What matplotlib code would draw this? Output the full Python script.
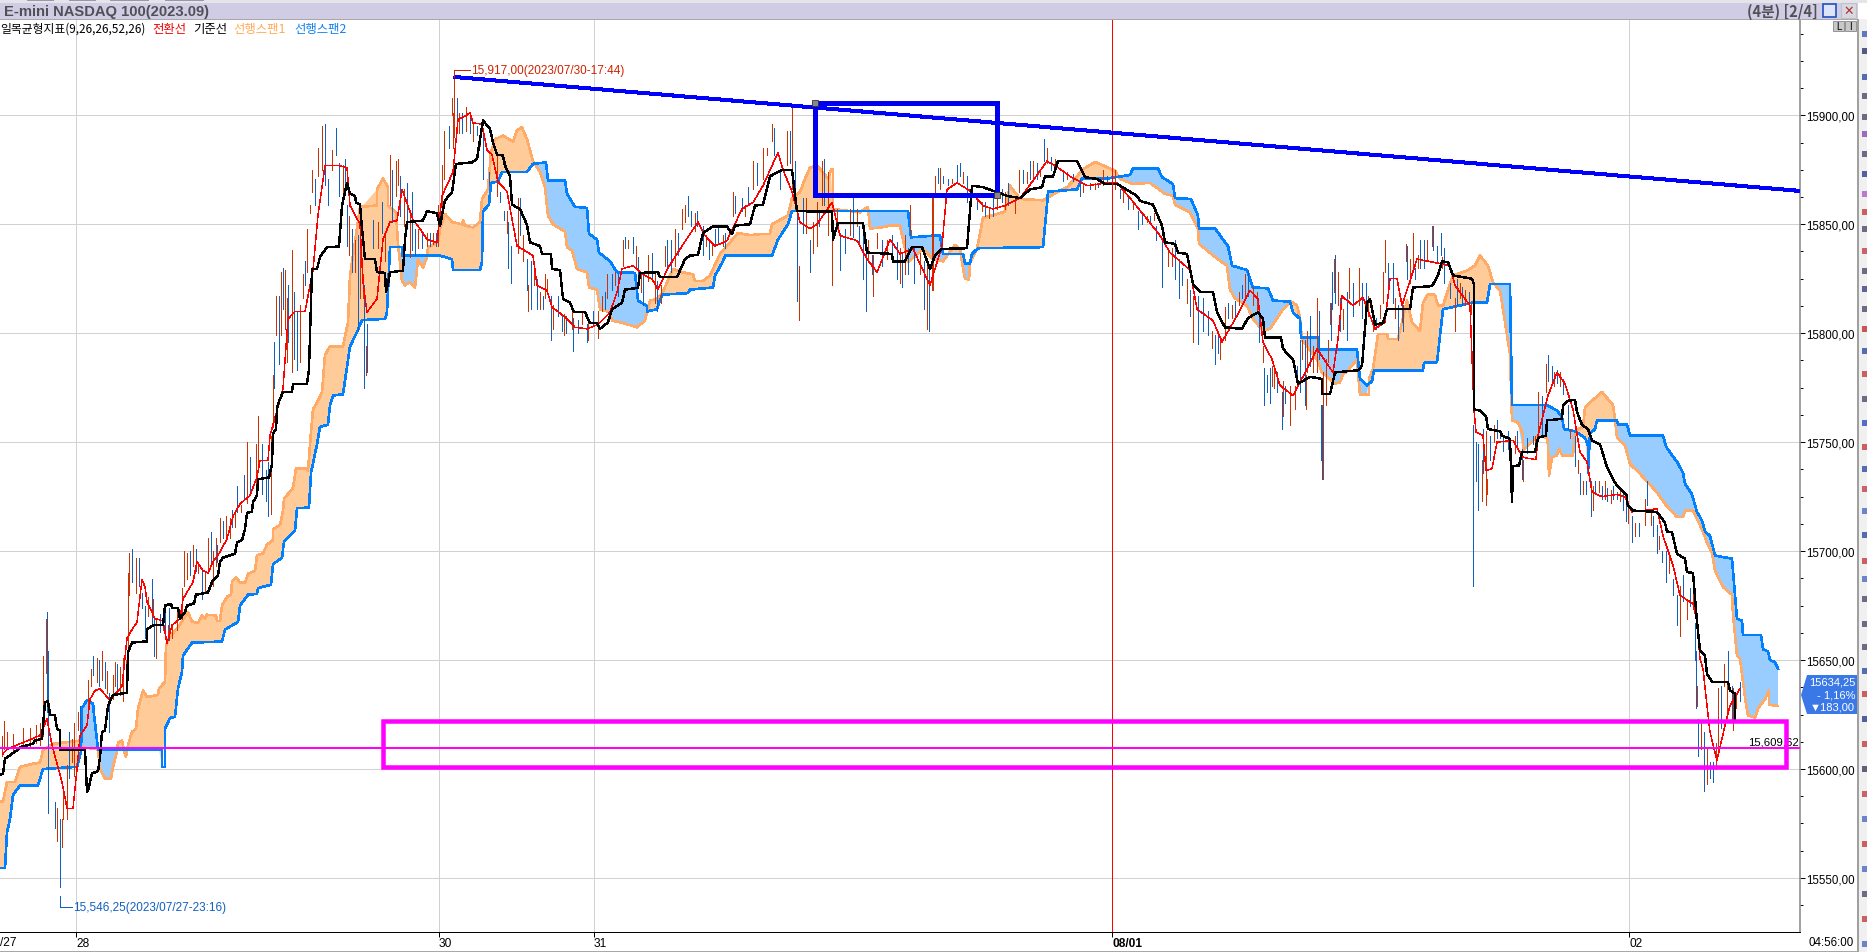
import matplotlib
matplotlib.use('Agg')

import numpy as np
import matplotlib.pyplot as plt
from matplotlib.patches import Polygon, Rectangle
from matplotlib.ticker import FuncFormatter, MultipleLocator

# chart position (bars run left to right), price
span2 = [(0,15554.6),(5,15554.6),(7,15571),(10,15577),(13,15588),(20,15592.5),(38,15592.5),(43,15600),(77,15601),(81,15608),(82,15628),(87,15631.5),(93,15630),(94,15625),(98,15609),(162,15609),(162,15601),(165,15601),(165,15618.5),(170,15623.4),(175,15624),(178,15637),(182,15644.5),(183,15652),(192,15658),(222,15658.5),(225,15664),(238,15667.5),(240,15675),(248,15680),(257,15680.4),(258,15683),(271,15684.6),(273,15694),(282,15697),(284,15704.4),(295,15709.5),(297,15719.7),(309,15720),(311,15736),(317,15749),(320,15757),(328,15758),(330,15767),(333,15771.4),(343,15772),(350,15794),(357,15800.5),(362,15806),(385,15806.6),(387,15809.6),(390,15839.5),(402,15839.5),(402,15835.6),(440,15835.6),(452,15834),(453,15829),(480,15829),(482,15832.6),(483,15856),(489,15859),(491,15869),(498,15869.6),(502,15874),(527,15874),(533,15877.7),(546,15878.4),(548,15870),(565,15870),(567,15864),(575,15858),(587,15857.5),(589,15845.6),(597,15843),(599,15837),(610,15833),(617,15828),(635,15827.7),(638,15815),(647,15812.4),(647,15810),(657,15811),(662,15817.7),(688,15818.4),(690,15820),(713,15821),(715,15826.5),(723,15833),(725,15835.6),(772,15835.6),(778,15843),(788,15850),(792,15856),(908,15856),(911,15844),(940,15845),(943,15836.4),(963,15836.4),(965,15832),(970,15832),(972,15836.4),(978,15839),(1043,15839.5),(1047,15859),(1048,15865),(1077,15866),(1082,15871),(1107,15871),(1130,15872.6),(1133,15875.7),(1158,15875.7),(1162,15871.6),(1173,15868.5),(1175,15862),(1191,15861.6),(1198,15854),(1199,15848),(1215,15848),(1228,15840),(1232,15831),(1247,15829),(1253,15821),(1268,15820.6),(1273,15815),(1290,15814.5),(1293,15809.6),(1300,15806.6),(1301,15798),(1318,15798),(1319,15792.5),(1357,15792.5),(1360,15779),(1367,15776),(1372,15778),(1374,15783),(1423,15783),(1424,15786.4),(1437,15786.7),(1440,15799),(1443,15811),(1472,15814),(1487,15814),(1490,15822.6),(1510,15822.6),(1512,15767),(1547,15767),(1557,15764.5),(1562,15761.5),(1564,15756),(1575,15755),(1585,15752),(1588,15748.5),(1588,15736),(1590,15754),(1595,15756),(1597,15760),(1617,15760),(1618,15758),(1627,15758),(1630,15753),(1663,15753),(1666,15748),(1672,15744),(1677,15741),(1683,15736),(1685,15731),(1692,15726),(1697,15718),(1702,15714),(1705,15709),(1710,15707),(1715,15698),(1732,15696.5),(1735,15680),(1737,15669),(1742,15668),(1743,15661.5),(1761,15661.5),(1763,15655),(1768,15654),(1770,15650),(1775,15649),(1778,15646)]

span1 = [(0,15585),(3,15585),(7,15594),(15,15594),(20,15601),(33,15602.4),(40,15603),(43,15608.6),(53,15611.6),(80,15613),(82,15610),(98,15609),(100,15600),(105,15595.6),(111,15595.6),(113,15601),(117,15608),(118,15612),(122,15613),(124,15608.6),(126,15605.5),(128,15611),(132,15617),(136,15618.5),(138,15627.7),(143,15636),(147,15633),(158,15634),(159,15637),(165,15640),(166,15656.7),(170,15661),(177,15664.4),(188,15672),(192,15667.7),(198,15667),(202,15670.5),(205,15669),(207,15670.8),(216,15670.5),(217,15668),(220,15668),(222,15675),(227,15679),(231,15680),(232,15686),(236,15688),(240,15685.5),(245,15685.5),(248,15689.6),(255,15691),(257,15698),(263,15699),(267,15703),(273,15705),(273,15710),(280,15712),(283,15718.6),(284,15724),(293,15729),(296,15738),(307,15738),(308,15737),(311,15754.6),(313,15765),(318,15769),(322,15773),(325,15790),(330,15794),(343,15794),(348,15805),(350,15826.5),(357,15848),(360,15858),(377,15858.6),(377,15866),(383,15871),(388,15867),(388,15858.6),(396,15855.5),(398,15841),(402,15824),(405,15822),(410,15823.4),(415,15821),(418,15834),(423,15830),(427,15835),(428,15839.5),(438,15841.7),(440,15848),(445,15854.7),(452,15851),(462,15850),(463,15851.7),(465,15849.4),(473,15848.6),(480,15851),(482,15861.6),(488,15866),(491,15883),(495,15889),(503,15890.7),(513,15888),(517,15893),(522,15894.5),(527,15889),(533,15879),(540,15874),(545,15867),(548,15854),(553,15850),(565,15846.6),(567,15839.5),(572,15838),(577,15829.5),(587,15828),(589,15821),(597,15820),(600,15811),(610,15809.6),(612,15805.8),(623,15804.7),(637,15802.7),(645,15805.8),(647,15810),(650,15815),(657,15815.7),(662,15818),(670,15826.5),(673,15829.5),(682,15828),(693,15827),(695,15824),(703,15824),(710,15826.5),(720,15836.4),(738,15846),(750,15845),(763,15845.6),(770,15845.6),(772,15850),(788,15854),(792,15862),(800,15864.7),(805,15870.8),(810,15876),(817,15877),(828,15871),(831,15875),(833,15875),(833,15857),(860,15855.5),(868,15858),(870,15848),(882,15848.6),(890,15849.4),(900,15849.4),(903,15843),(908,15832.6),(923,15838.7),(933,15834),(943,15833),(955,15840.5),(960,15838.7),(962,15832.6),(965,15825),(969,15824.6),(970,15832.6),(977,15838.7),(983,15853),(1003,15855.5),(1005,15856),(1010,15867.7),(1020,15861.6),(1043,15861),(1057,15864.7),(1067,15867),(1075,15870.8),(1082,15875),(1095,15878.6),(1115,15874.6),(1120,15870.8),(1133,15868.5),(1150,15869),(1165,15864),(1173,15863),(1175,15859),(1190,15855.5),(1198,15848),(1199,15841),(1215,15835),(1227,15831),(1230,15820),(1235,15816),(1247,15812.6),(1253,15806.6),(1263,15801),(1270,15802),(1283,15811),(1291,15814.5),(1297,15812.7),(1300,15807),(1302,15797),(1317,15788),(1322,15782),(1330,15779),(1335,15776.8),(1340,15777.5),(1343,15781),(1348,15783),(1357,15788),(1358,15782),(1360,15772),(1369,15772),(1369,15779),(1373,15783.6),(1378,15799.7),(1387,15799.7),(1388,15797.4),(1398,15797.4),(1402,15805),(1407,15815),(1412,15805),(1420,15801),(1423,15814),(1428,15818),(1435,15817.6),(1438,15812.7),(1443,15812.7),(1453,15826.5),(1467,15828.7),(1475,15831),(1480,15835.6),(1488,15831),(1493,15823.4),(1500,15819.6),(1510,15790.5),(1512,15760),(1518,15759),(1523,15754),(1523,15746),(1538,15753),(1547,15752),(1548,15748.5),(1549,15734.7),(1552,15743),(1557,15744),(1559,15747),(1562,15744),(1573,15744),(1575,15754.6),(1578,15756),(1583,15757),(1585,15766),(1592,15769),(1602,15773),(1613,15767),(1615,15760.7),(1617,15752),(1625,15748.5),(1630,15740),(1640,15735.5),(1657,15727),(1665,15721.7),(1677,15715.6),(1683,15715.6),(1685,15718.6),(1693,15718.6),(1702,15710),(1707,15704),(1712,15699.5),(1715,15691),(1723,15683.5),(1732,15680),(1733,15671),(1737,15652),(1740,15650.6),(1745,15633),(1748,15624.6),(1755,15623.5),(1758,15627.7),(1765,15632),(1769,15636),(1769,15629.5),(1778,15629)]

kijun = [(0,15597.4),(3,15598),(5,15604.7),(17,15608.6),(20,15610),(33,15611.6),(35,15613),(42,15614),(45,15630.7),(48,15631),(50,15625),(55,15624.6),(57,15618.5),(60,15617.7),(60,15609),(80,15609),(85,15608.6),(87,15589.5),(88,15590),(92,15598),(98,15599),(100,15605.5),(102,15617),(105,15617.7),(108,15629),(113,15634),(127,15635),(128,15653.7),(132,15658),(147,15658.6),(147,15664),(153,15666),(163,15666),(165,15675),(171,15675.8),(172,15674),(178,15674),(180,15669),(185,15672),(187,15675),(194,15676),(196,15680),(208,15681),(212,15685.8),(218,15689),(220,15695),(223,15697),(235,15698.8),(237,15704),(242,15705),(245,15710),(247,15717.6),(252,15718),(253,15722.5),(257,15725.5),(258,15733),(269,15733.8),(272,15740),(273,15753.8),(276,15756),(277,15765),(278,15767.6),(283,15773),(292,15773),(293,15776.8),(307,15776.8),(309,15783.6),(312,15829.5),(317,15829.5),(320,15835),(327,15839.5),(339,15839.8),(342,15858.6),(347,15869),(350,15864),(355,15863),(356,15860),(360,15859),(362,15848),(365,15834),(375,15834),(377,15828),(385,15827.7),(386,15819),(388,15822.6),(390,15828),(403,15828.7),(405,15843),(407,15851),(423,15851.7),(427,15856),(437,15855),(440,15849.4),(445,15861),(452,15864.7),(456,15877.7),(472,15878.4),(477,15880),(483,15897.6),(490,15893.8),(493,15887.6),(497,15882),(503,15881.5),(505,15877),(510,15872),(512,15859),(520,15857),(527,15849.7),(530,15841.7),(540,15840),(542,15836.4),(551,15836.4),(552,15829.5),(560,15829),(563,15815.8),(570,15814),(574,15809.6),(585,15809.6),(590,15804.7),(597,15804.7),(600,15802),(608,15805),(612,15811),(622,15814),(625,15820),(638,15820.8),(640,15827.7),(658,15828),(660,15825.7),(677,15825.7),(685,15834),(690,15835.6),(698,15836),(703,15846),(713,15849),(727,15849),(732,15845.6),(735,15849.4),(750,15850),(755,15858.6),(763,15859),(770,15872),(782,15875),(792,15875),(797,15856),(832,15855.8),(833,15843),(838,15850.6),(863,15850.6),(867,15837),(892,15836.4),(893,15833),(905,15833),(912,15839.5),(922,15839.5),(930,15829.5),(935,15835.6),(942,15838.7),(967,15839),(972,15867.7),(983,15867),(997,15864.7),(1007,15863),(1020,15862),(1030,15866),(1042,15867),(1045,15872),(1053,15872),(1058,15879),(1077,15879),(1085,15871.6),(1097,15870.8),(1105,15868.5),(1117,15868.5),(1137,15863),(1140,15860.7),(1153,15859),(1162,15849.4),(1165,15841.7),(1175,15841),(1178,15837),(1187,15836.4),(1193,15822.6),(1200,15819),(1213,15818.8),(1217,15809.6),(1225,15802.7),(1242,15802),(1248,15807),(1258,15809.6),(1263,15806.6),(1265,15798),(1281,15798),(1283,15792.8),(1293,15788),(1298,15776.8),(1310,15780),(1322,15779),(1322,15772),(1330,15772),(1335,15782),(1358,15783),(1362,15785),(1367,15814),(1370,15815.7),(1375,15804),(1383,15804.6),(1387,15811),(1410,15811),(1413,15821),(1432,15821.6),(1438,15826.5),(1442,15833),(1448,15832.6),(1453,15826.5),(1472,15825),(1474,15822.6),(1474,15765),(1480,15764.5),(1486,15762),(1488,15756),(1500,15755),(1502,15753),(1510,15751.5),(1512,15722.5),(1513,15739),(1519,15739.3),(1522,15745.4),(1535,15745.4),(1538,15752),(1546,15753),(1547,15760),(1562,15760.7),(1563,15767),(1568,15769),(1575,15769.4),(1577,15763.8),(1582,15758),(1588,15756),(1592,15750.8),(1600,15749),(1603,15744.6),(1607,15738.5),(1613,15733),(1617,15730),(1627,15725.5),(1627,15721.7),(1633,15718.6),(1657,15718),(1665,15713),(1667,15709),(1672,15708.7),(1677,15698.8),(1685,15696.5),(1687,15690.4),(1693,15690),(1697,15667.5),(1700,15654.4),(1705,15652),(1707,15643.7),(1712,15640),(1728,15640),(1730,15636),(1735,15634.6),(1735,15623)]

tenkan = [(3,15607),(7,15609),(20,15611.6),(40,15615.4),(47,15623),(52,15611),(62,15594),(67,15582),(73,15582),(77,15600),(80,15615.4),(87,15620),(90,15632),(95,15636),(100,15636.8),(110,15631.5),(122,15638),(127,15660),(132,15664),(137,15667.4),(142,15687),(145,15683.5),(147,15676.6),(155,15669),(163,15668),(167,15657.5),(172,15666),(180,15669),(183,15678),(193,15685.8),(197,15695),(203,15691),(208,15690),(213,15695),(220,15699.5),(227,15705.7),(233,15716),(240,15721.7),(250,15725.5),(257,15734),(260,15741.6),(268,15741.6),(270,15753),(283,15774.5),(288,15806.6),(295,15810),(305,15810),(313,15829),(318,15854),(325,15877),(338,15877),(347,15876),(350,15858.6),(360,15850),(363,15823.4),(367,15809.6),(377,15815.8),(383,15843),(390,15851),(397,15851.7),(402,15866),(413,15852),(420,15848),(427,15843),(437,15841.7),(442,15863),(453,15874),(458,15898),(470,15901),(473,15896.5),(482,15896),(487,15884),(492,15882),(498,15869.6),(507,15865),(517,15840),(533,15835.6),(537,15822),(547,15819.6),(552,15812),(565,15807.4),(575,15802.7),(587,15802),(598,15804),(610,15809.6),(617,15818.8),(622,15829.5),(633,15831),(643,15827),(652,15825),(658,15820),(668,15830),(682,15840),(698,15851),(705,15844.8),(715,15840),(727,15842.5),(742,15857),(753,15860),(763,15867.7),(778,15883),(783,15875),(792,15865),(800,15851),(810,15848),(817,15850),(832,15860),(840,15844.8),(857,15842.5),(867,15834),(877,15828),(890,15843),(900,15836.4),(913,15838.7),(930,15822),(942,15840),(947,15866),(957,15869),(970,15865.4),(983,15858.6),(993,15857),(1005,15858.6),(1020,15862),(1033,15870),(1047,15879),(1058,15876),(1070,15872),(1087,15867.7),(1107,15869),(1117,15869),(1130,15862),(1147,15852.4),(1160,15844.8),(1170,15837),(1190,15829),(1197,15811),(1213,15805.8),(1222,15796),(1237,15808),(1250,15819.6),(1258,15815.8),(1263,15796),(1272,15788),(1280,15776),(1293,15771.4),(1307,15783.6),(1317,15792.8),(1333,15782),(1338,15797.4),(1342,15817),(1353,15812.7),(1363,15816.5),(1375,15802),(1385,15805),(1390,15825),(1397,15825),(1402,15812.7),(1417,15834),(1433,15832.6),(1450,15831),(1455,15822),(1470,15812.7),(1474,15765),(1476,15754.6),(1483,15753),(1486,15737),(1492,15737.8),(1497,15750),(1513,15750.8),(1523,15743),(1536,15742),(1538,15753),(1548,15771.4),(1557,15782),(1565,15776.8),(1573,15765),(1580,15745.4),(1587,15741),(1592,15727),(1602,15725),(1617,15726),(1625,15724.8),(1632,15718),(1657,15719.4),(1663,15707),(1673,15693.5),(1680,15679.7),(1693,15675.8),(1697,15667.5),(1700,15650.6),(1703,15646),(1707,15629),(1710,15617),(1717,15604),(1725,15620),(1730,15629),(1740,15637)]

# position, low, high of each 4 minute bar
up_bars = [(2,15606,15615),(4,15609,15622),(7,15610,15617),(13,15608,15616),(23,15611,15619),(30,15610,15619),(36,15612,15620),(40,15611,15621),(43,15615,15652),(46,15644,15669),(57,15567,15582),(62,15564,15577),(63,15577,15591),(67,15577,15602),(72,15603,15614),(74,15597,15621),(78,15618,15626),
(88,15626,15641),(91,15638,15646),(97,15640,15651),(102,15641,15654),(107,15635,15645),(113,15632,15643),(115,15638,15649),(120,15634,15647),(123,15631,15651),(126,15640,15650),(128,15648,15690),(129,15680,15699),(136,15681,15697),(148,15670,15679),(153,15670,15678),(156,15651,15669),(163,15664,15669),(168,15661,15666),(172,15660,15666),(177,15664,15674),(182,15669,15683),(184,15684,15700),(187,15687,15699),(193,15693,15703),(198,15690,15695),(205,15681,15690),(208,15690,15706),(213,15684,15700),(216,15693,15706),(220,15704,15715),(226,15706,15716),(230,15706,15715),(235,15711,15717),(241,15718,15721),(247,15722,15750),(256,15729,15749),(258,15738,15762),(271,15717,15753),(273,15757,15770),
(273,15761,15781),(276,15799,15817),(281,15799,15828),(285,15802,15829),(287,15787,15816),(292,15782,15838),(300,15787,15813),(303,15816,15827),(307,15828,15848),(310,15855,15859),(312,15865,15875),(318,15872,15885),(322,15875,15895),(332,15875,15884),(343,15865,15877),(349,15836,15854),(355,15828,15843),(360,15816,15856),(363,15816,15827),(366,15781,15794),(378,15839,15851),(385,15833,15846),(390,15859,15882),(396,15863,15879),(398,15868,15880),(404,15849,15866),(410,15835,15854),(418,15839,15848),(427,15840,15846),(433,15841,15846),(438,15840,15859),(442,15854,15877),(444,15871,15893),(452,15900,15908),(453,15885,15901),(454,15890,15917),(459,15892,15901),(466,15893,15904),(473,15888,15897),(480,15886,15894),(497,15863,15882),(507,15846,15856),(518,15837,15862),(523,15833,15845),(528,15810,15822),(534,15822,15833),(540,15811,15819),(545,15816,15827),(547,15820,15825),(553,15802,15813),(564,15799,15809),(572,15802,15810),(582,15804,15810),(588,15797,15805),(598,15798,15810),(602,15810,15817),(607,15816,15827),(615,15822,15828),(623,15831,15843),(628,15839,15843),(636,15830,15840),(641,15819,15828),(648,15824,15836),(655,15814,15827),(661,15814,15822),(665,15831,15840),(675,15831,15848),(682,15848,15857),(685,15851,15859),(695,15847,15855),(706,15840,15845),(712,15836,15842),(723,15840,15845),(733,15854,15865),(745,15854,15859),
(753,15866,15879),(763,15871,15885),(767,15882,15885),(772,15888,15896),(787,15877,15893),(792,15866,15904),(799,15806,15831),(806,15846,15862),(813,15837,15851),(817,15840,15860),(822,15859,15879),(828,15845,15874),(832,15822,15848),(837,15848,15857),(850,15845,15857),(857,15849,15857),(868,15833,15843),(873,15817,15836),(877,15839,15846),(887,15834,15843),(900,15823,15839),(905,15827,15845),(910,15845,15859),(920,15827,15837),(927,15802,15831),(932,15820,15863),(933,15820,15863),(935,15865,15872),(940,15866,15876),(952,15869,15871),(963,15869,15874),(971,15859,15866),(982,15856,15860),(989,15853,15857),(997,15857,15862),(1005,15857,15865),(1015,15855,15862),(1019,15865,15875),(1027,15869,15874),(1033,15871,15879),(1040,15872,15875),(1047,15878,15885),(1055,15874,15880),(1067,15871,15874),(1083,15865,15869),(1095,15866,15869),(1103,15868,15875),(1115,15866,15875),(1123,15860,15866),(1133,15857,15860),(1147,15851,15854),(1154,15852,15855),(1168,15831,15839),(1172,15831,15839),(1187,15814,15825),(1193,15796,15817),
(1212,15793,15801),(1220,15788,15797),(1225,15797,15812),(1232,15807,15813),(1239,15813,15819),(1245,15817,15827),(1253,15813,15821),(1257,15810,15819),(1263,15787,15794),(1272,15776,15785),(1274,15775,15785),(1283,15762,15778),(1290,15758,15776),(1295,15765,15776),(1302,15788,15797),(1306,15765,15781),(1307,15782,15801),(1313,15782,15794),(1317,15782,15816),(1323,15733,15782),(1326,15767,15788),(1328,15787,15797),(1330,15804,15814),(1334,15819,15834),(1338,15813,15828),(1343,15802,15811),(1349,15816,15830),(1359,15813,15830),(1368,15808,15817),(1373,15801,15808),(1380,15807,15813),(1383,15814,15828),(1385,15828,15843),(1395,15807,15816),(1402,15805,15814),(1406,15833,15841),(1410,15823,15834),(1413,15830,15846),(1418,15830,15836),(1427,15834,15843),(1432,15840,15849),(1442,15830,15835),(1455,15801,15816),(1460,15816,15823),(1465,15813,15820),(1471,15809,15814),
(1482,15723,15742),(1486,15721,15755),(1487,15726,15733),(1494,15750,15758),(1515,15745,15753),(1523,15732,15742),(1535,15750,15753),(1538,15755,15773),(1546,15773,15786),(1554,15776,15782),(1560,15776,15782),(1570,15752,15756),(1578,15736,15742),(1583,15726,15732),(1593,15719,15730),(1599,15727,15732),(1605,15724,15732),(1611,15722,15728),(1620,15723,15729),(1628,15713,15723),(1635,15707,15713),(1645,15712,15724),(1651,15712,15718),(1659,15701,15707),(1669,15690,15698),(1680,15661,15684),(1687,15669,15678),(1693,15674,15687),
(1697,15629,15638),(1701,15609,15622),(1707,15593,15609),(1716,15600,15612),(1718,15608,15637),(1724,15638,15648),(1727,15626,15640),(1733,15618,15637),(1736,15628,15635)]

down_bars = [(47,15626,15672),(48,15580,15654),(55,15573,15585),(60,15546,15577),(69,15596,15617),(80,15618,15629),
(93,15643,15652),(99,15638,15650),(105,15637,15649),(109,15617,15635),(117,15635,15648),(132,15686,15701),(139,15684,15697),(142,15674,15681),(145,15660,15675),(152,15666,15687),(154,15652,15670),(160,15663,15671),(165,15660,15672),(169,15659,15674),(190,15689,15700),(196,15691,15701),(202,15678,15692),(211,15693,15709),(217,15695,15703),(223,15706,15714),(232,15711,15719),(237,15718,15730),(244,15724,15735),(250,15726,15743),(262,15726,15749),(266,15723,15737),(268,15716,15741),
(274,15775,15796),(279,15786,15817),(283,15811,15830),(288,15796,15822),(294,15788,15819),(297,15783,15810),(305,15822,15833),(315,15859,15871),(325,15868,15896),(328,15859,15871),(336,15882,15894),(339,15863,15878),(345,15868,15880),(347,15840,15859),(352,15828,15848),(358,15801,15845),(364,15775,15822),(367,15782,15804),(373,15839,15852),(382,15846,15860),(392,15851,15875),(400,15854,15872),(407,15848,15869),(412,15838,15865),(415,15836,15848),(422,15839,15847),(430,15840,15846),(436,15840,15846),(449,15885,15895),(457,15892,15908),(462,15892,15901),(470,15892,15901),(477,15891,15895),(483,15871,15893),(489,15868,15874),(500,15860,15865),(504,15852,15856),(508,15830,15851),(511,15823,15840),(520,15845,15862),(527,15820,15834),(531,15811,15833),(537,15811,15825),(543,15811,15817),(551,15797,15817),(558,15808,15817),(562,15801,15808),(566,15800,15808),(573,15792,15807),(578,15800,15806),(587,15796,15804),(593,15804,15810),(605,15811,15819),(612,15820,15827),(618,15817,15827),(625,15839,15844),(633,15837,15844),(638,15822,15835),(643,15813,15827),(652,15825,15837),(657,15810,15824),(667,15831,15843),(671,15828,15843),(678,15836,15846),(688,15854,15863),(691,15849,15856),(697,15849,15856),(703,15836,15849),(709,15834,15842),(715,15840,15848),(718,15842,15849),(725,15839,15846),(735,15855,15863),(742,15856,15862),(748,15859,15867),
(757,15868,15878),(774,15882,15894),(780,15866,15875),(790,15878,15893),(795,15857,15879),(797,15815,15857),(803,15846,15862),(810,15828,15843),(819,15849,15856),(824,15859,15880),(832,15837,15851),(840,15829,15846),(845,15837,15848),(853,15844,15862),(859,15840,15849),(863,15825,15849),(866,15810,15840),(872,15827,15836),(882,15831,15843),(892,15833,15845),(897,15825,15842),(902,15821,15837),(908,15827,15839),(914,15823,15839),(924,15811,15833),(929,15801,15830),(938,15869,15876),(943,15869,15872),(948,15868,15871),(957,15869,15877),(960,15872,15878),(967,15860,15872),(977,15857,15863),(985,15854,15860),(993,15854,15862),(1002,15860,15866),(1008,15859,15869),(1023,15869,15875),(1030,15871,15879),(1037,15871,15878),(1044,15879,15889),(1051,15875,15881),(1063,15870,15874),(1073,15870,15873),(1080,15863,15871),(1090,15866,15869),(1098,15867,15869),(1107,15869,15872),(1120,15862,15866),(1128,15857,15862),(1138,15848,15856),(1142,15850,15855),(1150,15850,15854),(1156,15843,15849),(1162,15821,15843),(1175,15825,15843),(1179,15816,15834),(1182,15822,15830),(1190,15808,15820),(1198,15795,15817),
(1203,15801,15816),(1208,15799,15810),(1215,15786,15799),(1218,15791,15799),(1228,15807,15814),(1235,15808,15815),(1242,15816,15822),(1248,15817,15829),(1259,15796,15810),(1264,15767,15784),(1267,15773,15781),(1270,15768,15784),(1277,15773,15782),(1282,15756,15773),(1285,15768,15776),(1297,15776,15785),(1300,15773,15797),(1305,15767,15797),(1310,15785,15808),(1319,15788,15810),(1321,15742,15767),(1322,15733,15767),(1331,15797,15814),(1332,15811,15828),(1335,15814,15836),(1340,15801,15816),(1347,15797,15819),(1353,15808,15823),(1362,15807,15823),(1366,15805,15823),(1376,15802,15807),(1388,15819,15832),(1393,15814,15832),(1398,15797,15813),(1403,15801,15813),(1407,15825,15840),(1415,15825,15830),(1420,15830,15843),(1424,15830,15843),(1433,15838,15849),(1437,15833,15840),(1441,15836,15846),(1444,15823,15839),(1450,15816,15823),(1457,15813,15825),(1462,15813,15821),(1469,15811,15819),
(1473,15684,15758),(1476,15732,15750),(1478,15719,15749),(1483,15736,15756),(1490,15742,15753),(1497,15752,15760),(1500,15752,15755),(1503,15746,15752),(1508,15747,15755),(1510,15736,15749),(1517,15747,15755),(1522,15733,15747),(1527,15745,15752),(1533,15749,15753),(1542,15753,15771),(1548,15778,15790),(1552,15778,15785),(1557,15777,15783),(1563,15772,15779),(1568,15756,15767),(1575,15739,15753),(1580,15726,15736),(1586,15726,15732),(1591,15716,15732),(1595,15726,15732),(1602,15724,15730),(1607,15723,15729),(1613,15724,15730),(1617,15724,15727),(1623,15719,15726),(1626,15714,15721),(1632,15704,15716),(1639,15707,15713),(1647,15721,15732),(1653,15707,15716),(1657,15699,15712),(1662,15695,15700),(1666,15686,15700),(1673,15680,15687),(1677,15666,15680),(1683,15677,15689),(1690,15675,15683),(1695,15650,15667),
(1695,15650,15664),(1696,15628,15654),(1698,15606,15623),(1704,15590,15617),(1710,15596,15603),(1713,15594,15603),(1721,15619,15638),(1728,15640,15654),(1732,15623,15638),(1740,15631,15640)]

y_major = [15550,15600,15650,15700,15750,15800,15850,15900]
day_pos = [76,439,594,1112,1629]
day_labels = ['28','30','31','08/01','02']
trend_x = [454,1800]
trend_p = [15917.6,15865.3]
box_x = [815,997]
box_p = [15863.2,15905.7]
zone_x = [383,1786]
zone_p = [15600.9,15622]
level = 15609.62
last_price = 15634.25

W,H = 1867,953
fig = plt.figure(figsize=(W/100,H/100),dpi=100,facecolor='white')
px = 0.72   # one screen pixel in points

def fx(x): return x/W
def fy(y): return 1-y/H

ax = fig.add_axes([0,fy(933),1800/W,(933-20)/H])
ax.set_xlim(0,1800)
ax.set_ylim(15525.2,15944.2)

for g in y_major:
    ax.axhline(g,color='#d2d2d2',lw=px,zorder=1,antialiased=False)
for g in day_pos:
    ax.axvline(g,color='#d2d2d2',lw=px,zorder=1,antialiased=False)

# cloud, orange where span1 is on top, blue where span2 is
s1 = np.array(span1); s2 = np.array(span2)
grid = np.union1d(s1[:,0],s2[:,0])
a = np.interp(grid,s1[:,0],s1[:,1]); b = np.interp(grid,s2[:,0],s2[:,1])
ax.fill_between(grid,a,b,where=a>=b,interpolate=True,color='#ffcc99',lw=0,zorder=2)
ax.fill_between(grid,a,b,where=a<=b,interpolate=True,color='#99ccff',lw=0,zorder=2)
ax.plot(s1[:,0],s1[:,1],color='#ffaa66',lw=1.6*px,zorder=3,antialiased=False)
ax.plot(s2[:,0],s2[:,1],color='#0080ff',lw=1.6*px,zorder=3,antialiased=False)

ub = np.array(up_bars); db = np.array(down_bars)
ax.vlines(db[:,0],db[:,1],db[:,2],color='#1060c0',lw=1.0*px,zorder=4,antialiased=False)
ax.vlines(ub[:,0],ub[:,1],ub[:,2],color='#cc3300',lw=1.0*px,zorder=4,antialiased=False)

t = np.array(tenkan); k = np.array(kijun)
ax.plot(t[:,0],t[:,1],color='#ff0000',lw=0.45*px,zorder=5,antialiased=False)
ax.plot(k[:,0],k[:,1],color='#000000',lw=1.4*px,zorder=6,antialiased=False)

# things drawn by hand on the chart
ax.axvline(1112,color='#ff0000',lw=px,zorder=7,antialiased=False)
ax.plot(trend_x,trend_p,color='#0000ff',lw=3*px,zorder=8,antialiased=False,solid_capstyle='butt')
ax.add_patch(Rectangle((box_x[0],box_p[0]),box_x[1]-box_x[0],box_p[1]-box_p[0],fill=False,ec='#0000ee',lw=5*px,zorder=8,joinstyle='miter'))
ax.plot(box_x[0],box_p[1],'s',ms=4,mfc='#888888',mec='#333333',mew=0.6,zorder=9)
ax.plot(box_x[1],box_p[0],'s',ms=4,mfc='#888888',mec='#333333',mew=0.6,zorder=9)
ax.add_patch(Rectangle((zone_x[0],zone_p[0]),zone_x[1]-zone_x[0],zone_p[1]-zone_p[0],fill=False,ec='#ff00ff',lw=4.5*px,zorder=8,joinstyle='miter'))
ax.axhline(level,color='#ff00ff',lw=2*px,zorder=8,antialiased=False)

num_font = ['Liberation Sans','DejaVu Sans']
cjk_font = ['Noto Sans CJK KR','DejaVu Sans']

ax.text(1799,level+0.8,'15,609,62',ha='right',va='bottom',fontsize=8.2,family=num_font,zorder=7)

# high and low markers
ax.plot([454,454,470],[15917.6,15921,15921],color='#cc2200',lw=px,zorder=9,antialiased=False)
ax.text(471,15921,'15,917,00(2023/07/30-17:44)',color='#cc2200',va='center',fontsize=8.5,family=num_font,zorder=9)
ax.plot([60,60,72],[15541.5,15536.5,15536.5],color='#1060c0',lw=px,zorder=9,antialiased=False)
ax.text(73,15536.5,'15,546,25(2023/07/27-23:16)',color='#1060c0',va='center',fontsize=8.5,family=num_font,zorder=9)

for s in ['top','left']:
    ax.spines[s].set_visible(False)
ax.spines['bottom'].set_color('black')
ax.spines['bottom'].set_linewidth(px)
ax.spines['right'].set_color('#8c8c8c')
ax.spines['right'].set_linewidth(1.6*px)

ax.yaxis.tick_right()
ax.yaxis.set_major_locator(MultipleLocator(50))
ax.yaxis.set_minor_locator(MultipleLocator(12.5))
ax.yaxis.set_major_formatter(FuncFormatter(lambda v,pos:'%d,00'%v))
ax.tick_params(axis='y',which='major',length=3.6,width=px,pad=0.6,labelsize=8.3)
ax.tick_params(axis='y',which='minor',length=2.2,width=px)
ax.set_xticks(day_pos)
ax.set_xticklabels(day_labels)
ax.tick_params(axis='x',length=3.4,width=px,pad=0.5,labelsize=8.6)
for lab in ax.get_yticklabels()+ax.get_xticklabels():
    lab.set_family(num_font)
for lab in ax.get_xticklabels():
    lab.set_ha('left')
    if lab.get_text()=='08/01':
        lab.set_fontweight('bold')

# legend row
legend_items = [('일목균형지표(9,26,26,52,26)','black',146,8.5),('전환선','#ee0000',186,8.9),('기준선','black',227,8.9),('선행스팬1','#ffaa55',286,8.9),('선행스팬2','#1080f0',347,8.9)]
for txt,col,right,fs in legend_items:
    fig.text(fx(right),fy(29.5),txt,color=col,ha='right',va='center',fontsize=fs,family=cjk_font,zorder=10)

# window chrome
fig.add_artist(Rectangle((0,fy(4)),1,4/H,transform=fig.transFigure,fc='#e4e4ea',ec='none',zorder=-1))
for tx,tw in [(27,27),(69,27),(110,39),(165,39)]:
    fig.add_artist(Rectangle((fx(tx),fy(2)),tw/W,2/H,transform=fig.transFigure,fc='#9a98a8',ec='none'))
fig.add_artist(Rectangle((0,fy(20)),1858/W,16/H,transform=fig.transFigure,fc='#d0cce4',ec='none'))
fig.add_artist(Rectangle((0,fy(21)),1858/W,1/H,transform=fig.transFigure,fc='#a8a8a8',ec='none'))
fig.text(fx(4),fy(12),'E-mini NASDAQ 100(2023.09)',color='#505058',va='center',fontsize=10.6,fontweight='bold',family=['Liberation Sans','DejaVu Sans'])
fig.text(fx(1818),fy(12),'(4분) [2/4]',color='#505058',ha='right',va='center',fontsize=10.6,fontweight='bold',family=cjk_font)
fig.add_artist(Rectangle((fx(1823),fy(18)),13/W,13/H,transform=fig.transFigure,fc='#dde4f8',ec='#2050c0',lw=1.2))
fig.add_artist(Rectangle((fx(1841),fy(19)),15/W,15/H,transform=fig.transFigure,fc='#d8d8e0',ec='#c0c0c8',lw=0.8))
fig.text(fx(1848.5),fy(11.5),'✕',color='#b03030',ha='center',va='center',fontsize=9)
for bx,btxt in [(1833,'L'),(1845,'I')]:
    fig.add_artist(Rectangle((fx(bx),fy(32)),11/W,10/H,transform=fig.transFigure,fc='#c8c8c8',ec='#888888',lw=0.6))
    fig.text(fx(bx+5.5),fy(27),btxt,color='black',ha='center',va='center',fontsize=7,family=num_font)

# last price tag
tag = [(1801,696),(1807,676),(1857,676),(1857,715),(1807,715)]
fig.add_artist(Polygon([(fx(x),fy(y)) for x,y in tag],transform=fig.transFigure,fc='#3a78e8',ec='none',zorder=9))
tag_lines = ['%d,%02d'%(last_price,round(last_price%1*100)),'- 1,16%','▼183,00']
for yy,txt in zip([683,696,708],tag_lines):
    fig.text(fx(1855),fy(yy),txt,color='white',ha='right',va='center',fontsize=8,family=num_font,zorder=10)

fig.text(fx(0),fy(943),'/27',va='center',fontsize=8.6,family=num_font)
fig.text(fx(1854),fy(943),'04:56:00',ha='right',va='center',fontsize=8.3,family=num_font)

# tool strip on the right edge
fig.add_artist(Rectangle((fx(1857),0),2/W,1-20/H,transform=fig.transFigure,fc='#a0a0a0',ec='none'))
fig.add_artist(Rectangle((fx(1859),0),8/W,1-20/H,transform=fig.transFigure,fc='#f0f0f0',ec='none'))
tool_y = [35,52,78,97,118,135,155,175,195,213,230,252,272,290,310,330,352,375,400,424,448,470,490,512,536,562,580,600,625,648,672,695,720,745,770,795,820,845,870,895,920,945]
tool_col = ['#3050b0','#202860','#2040a0','#404060','#404060','#8040b0','#404060','#203080','#b050c0','#c03030','#404060','#c03040','#404060','#303080','#404060','#c02020','#2040a0','#c03030','#404060','#2040c0','#c03030','#2040a0','#c03040','#4060c0','#2040a0','#c03030','#4060c0','#404060','#404060','#404060','#2040a0','#c03030','#203080','#c03030','#303050','#c03040','#4060c0','#c03030','#4060c0','#404060','#c03030','#4060c0']
for yy,col in zip(tool_y,tool_col):
    fig.add_artist(Rectangle((fx(1862),fy(yy+3)),5/W,6/H,transform=fig.transFigure,fc=col,ec='none',alpha=0.75))
fig.add_artist(Rectangle((0,0),1857/W,1/H,transform=fig.transFigure,fc='#a8a8a8',ec='none'))

fig.savefig('out.png',dpi=100)
plt.close()
